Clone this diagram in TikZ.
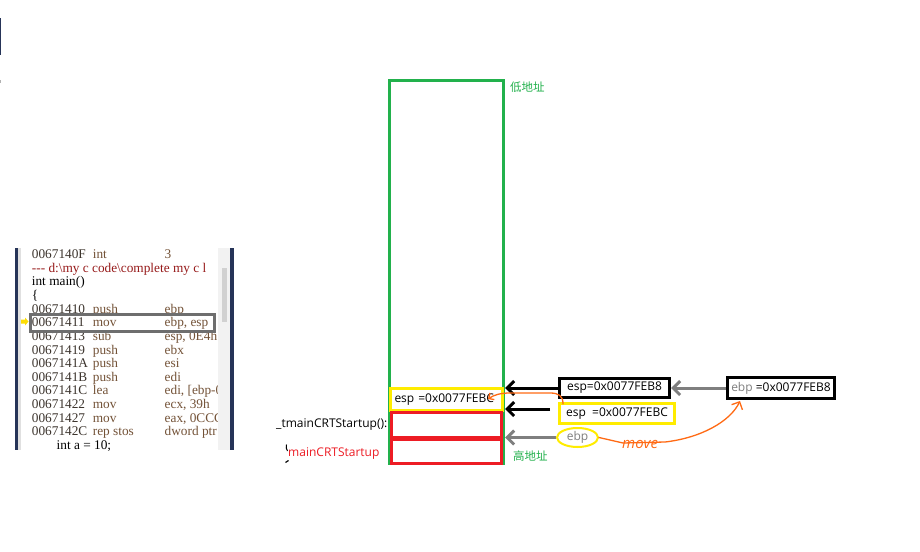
\documentclass[tikz,border=0pt]{standalone}
\usepackage{fontspec}
\setmainfont{Open Sans}
\newfontfamily\cjk{Noto Sans CJK SC}
\newfontfamily\codefont{Liberation Serif}
\usetikzlibrary{arrows.meta,shapes.geometric}
\definecolor{grn}{RGB}{34,177,76}
\definecolor{redA}{RGB}{237,28,36}
\definecolor{yel}{RGB}{255,236,0}
\definecolor{org}{RGB}{255,106,20}
\definecolor{gry}{RGB}{127,127,127}
\definecolor{navy}{RGB}{38,52,88}
\definecolor{addrc}{RGB}{60,52,45}
\definecolor{mnc}{RGB}{115,82,55}
\definecolor{srcc}{RGB}{150,25,25}
\definecolor{hlc}{RGB}{110,110,110}
\tikzset{
  lbl/.style={font=\fontsize{12}{14}\selectfont, inner sep=0pt},
  frame/.style={draw, line width=3pt, inner sep=0pt, anchor=north west},
  blkarrow/.style={black, line width=3pt, -{Straight Barb[length=7pt,width=14pt]}},
  gryarrow/.style={gry, line width=3pt, -{Straight Barb[length=7pt,width=14pt]}},
  orgline/.style={org, line width=1.3pt, line cap=round, line join=round},
  code/.style={font=\codefont\fontsize{13.3}{15}\selectfont, inner sep=0pt, anchor=base west},
}
\begin{document}
\begin{tikzpicture}[x=1pt,y=-1pt]
\path[use as bounding box, fill=white] (0,0) rectangle (920,551);
% left edge artefacts
\fill[navy] (0,18) rectangle (1,55);
\fill[gry!60] (0,80) rectangle (1,83);

% ---------- code panel ----------
\fill[white] (15,248) rectangle (234,450);
\fill[navy] (15,248) rectangle (18,450);
\fill[black!12] (18,248) rectangle (20.5,450);
\fill[black!5] (218,248) rectangle (229.5,450);
\fill[black!18] (221.5,268) rectangle (227,322);
\fill[navy] (229.5,248) rectangle (233.5,450);
\begin{scope}
\clip (20.5,248) rectangle (217,450);
\node[code, text=addrc] (a1) at (31.7,258.4) {0067140F};
\node[code, text=mnc] (m1) at (92.7,258.4) {int};
\node[code, text=mnc] (o1) at (164.5,258.4) {3};
\node[code, text=srcc] (src) at (31.7,272.1) {-{}-{}- d:\textbackslash my c code\textbackslash complete my c l};
\node[code, text=black] (fn) at (31.7,285.7) {int main()};
\node[code, text=black] (brace) at (31.7,299.4) {\{};
\foreach \i/\yy/\ad/\mn/\op in {
  5/313.0/00671410/push/ebp,
  6/326.6/00671411/mov/{ebp, esp},
  7/340.3/00671413/sub/{esp, 0E4h},
  8/354.0/00671419/push/ebx,
  9/367.6/0067141A/push/esi,
  10/381.3/0067141B/push/edi,
  11/394.9/0067141C/lea/{edi, [ebp-0E4h]},
  12/408.6/00671422/mov/{ecx, 39h},
  13/422.2/00671427/mov/{eax, 0CCCCCCCCh},
  14/435.9/0067142C/rep stos/{dword ptr es:[edi]}} {
  \node[code, text=addrc] (a\i) at (31.7,\yy) {\ad};
  \node[code, text=mnc] (m\i) at (92.7,\yy) {\mn};
  \node[code, text=mnc] (o\i) at (164.5,\yy) {\op};
}
\node[code, text=black] (stmt) at (56.5,449.5) {int a = 10;};
\end{scope}
\node[draw=hlc, line width=2.5pt, inner sep=0pt, anchor=north west,
      minimum width=184pt, minimum height=17pt] (hl) at (29,313) {};
\fill[yellow!80!orange] (21,319.5) -- (25,319.5) -- (25,317.5) -- (28.5,321.5) -- (25,325.5) -- (25,323.5) -- (21,323.5) -- cycle;

% ---------- stack ----------
\node[frame, draw=grn, minimum width=114pt, minimum height=383pt] (stack) at (388,79) {};
\node[frame, draw=yel, minimum width=112pt, minimum height=22pt,
      text width=104pt, align=left, inner xsep=4pt, lbl] (espold) at (389,387) {esp =0x0077FEBC};
\node[frame, draw=redA, minimum width=110pt, minimum height=25pt] (fr1) at (390,410.5) {};
\node[frame, draw=redA, minimum width=110pt, minimum height=24pt] (fr2) at (390,437.5) {};

\node[lbl, text=grn, anchor=west] (low) at (510,87) {\cjk\fontsize{11.5}{13}\selectfont 低地址};
\node[lbl, text=grn, anchor=west] (high) at (513,456.5) {\cjk\fontsize{11.5}{13}\selectfont 高地址};
\node[lbl, anchor=east] (tmain) at (387.5,425) {\_tmainCRTStartup():};
\node[lbl, text=redA, anchor=west] (mainc) at (288,454) {mainCRTStartup};
\draw[black, line width=1pt] (286.5,444.5) .. controls (285,447) and (287,449) .. (287.5,451);
\draw[black, line width=1.2pt] (285.5,462.5) -- (288.5,460.5);

% ---------- registers ----------
\node[frame, draw=black, minimum width=110pt, minimum height=19pt, lbl] (esp8) at (558,377) {esp=0x0077FEB8};
\node[frame, draw=yel, minimum width=115pt, minimum height=20pt, lbl] (espC) at (558,402) {esp\ \ =0x0077FEBC};
\node[ellipse, draw=yel, line width=2pt, inner sep=0pt, minimum width=41pt, minimum height=19pt, lbl, text=gry] (ebp) at (577.5,437.5) {ebp};
\node[frame, draw=black, minimum width=107pt, minimum height=21pt, lbl] (ebpbox) at (726,376) {\textcolor{gry}{ebp} =0x0077FEB8};

\coordinate (a2) at (550,409);
\draw[blkarrow] (esp8.west) -- (stack.east |- esp8.west);
\draw[blkarrow] (a2) -- (stack.east |- a2);
\draw[gryarrow] (ebp.west) -- (stack.east |- ebp.west);
\draw[gryarrow] (ebpbox.west) -- (esp8.east |- ebpbox.west);

% ---------- orange annotations ----------
\coordinate (s1) at (563,404);
\coordinate (t1) at (488,399);
\draw[orgline, -{Straight Barb[length=4pt,width=8pt]}] (s1) .. controls (563,396) and (559,393) .. (550,393) -- (510,393) .. controls (500,393) and (494,395) .. (t1);
\coordinate (t2) at (740,401);
\draw[orgline, -{Straight Barb[length=6pt,width=12pt]}] (ebp.east) -- (623,443) -- (665,442) .. controls (700,438) and (730,422) .. (t2);
\node[lbl, text=org, font=\fontsize{15}{16}\selectfont\itshape, anchor=west] (move) at (622,444) {move};
\end{tikzpicture}
\end{document}
